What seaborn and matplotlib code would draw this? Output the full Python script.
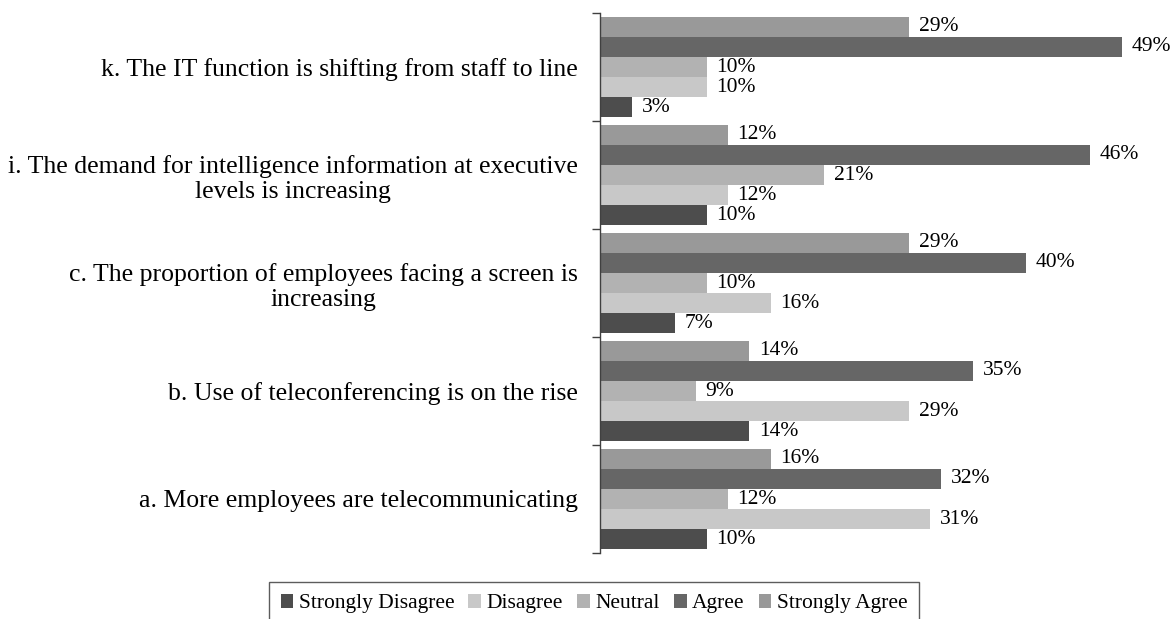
import matplotlib
matplotlib.use("Agg")
import matplotlib.pyplot as plt
import seaborn as sns
import pandas as pd
import numpy as np
from matplotlib.patches import Patch

statements = [
    "k. The IT function is shifting from staff to line",
    "i. The demand for intelligence information at executive\nlevels is increasing",
    "c. The proportion of employees facing a screen is\nincreasing",
    "b. Use of teleconferencing is on the rise",
    "a. More employees are telecommunicating",
]
responses = ["Strongly Disagree", "Disagree", "Neutral", "Agree", "Strongly Agree"]

strongly_disagree = [3, 10, 7, 14, 10]
disagree = [10, 12, 16, 29, 31]
neutral = [10, 21, 10, 9, 12]
agree = [49, 46, 40, 35, 32]
strongly_agree = [29, 12, 29, 14, 16]

colors = {
    "Strongly Disagree": "#4d4d4d",
    "Disagree": "#c8c8c8",
    "Neutral": "#b2b2b2",
    "Agree": "#666666",
    "Strongly Agree": "#999999",
}

series = [strongly_disagree, disagree, neutral, agree, strongly_agree]
rows = []
for resp, vals in zip(responses, series):
    for stmt, v in zip(statements, vals):
        rows.append({"Statement": stmt, "Response": resp, "Pct": v})
df = pd.DataFrame(rows)

sns.set_style("white")
plt.rcParams["font.family"] = ["Liberation Serif", "DejaVu Serif"]
plt.rcParams["text.color"] = "black"
plt.rcParams["ytick.color"] = "black"

fig = plt.figure(figsize=(11.74, 6.19), dpi=100)
ax = fig.add_axes([600 / 1174, 1 - 553 / 619, 533 / 1174, (553 - 13) / 619])

hue_order = responses[::-1]  # top bar in each group is "Strongly Agree"
sns.barplot(
    data=df, y="Statement", x="Pct", hue="Response", order=statements,
    hue_order=hue_order, palette=colors, orient="h", width=0.93, gap=0,
    saturation=1, errorbar=None, ax=ax, legend=False, linewidth=0,
)

for cont in ax.containers:
    labels = [f"{int(round(b.get_width()))}%" for b in cont]
    ax.bar_label(cont, labels=labels, padding=7, fontsize=15.5, color="black", clip_on=False)

ax.set_xlim(0, 50)
ax.set_ylim(len(statements) - 0.5, -0.5)
ax.set_xlabel("")
ax.set_ylabel("")
ax.set_xticks([])
for s in ["top", "right", "bottom"]:
    ax.spines[s].set_visible(False)
ax.spines["left"].set_color("#404040")
ax.spines["left"].set_linewidth(1.0)

ax.set_yticks(np.arange(len(statements)))
ax.set_yticklabels(statements, fontsize=18.5, multialignment="center", color="black")
ax.tick_params(axis="y", which="major", length=0, pad=16)
ax.set_yticks(np.arange(-0.5, len(statements)), minor=True)
ax.tick_params(axis="y", which="minor", length=6, width=1, color="#404040", direction="out", left=True)

handles = [Patch(facecolor=colors[r], edgecolor="none") for r in responses]
leg = fig.legend(
    handles, responses, loc="upper center", bbox_to_anchor=(594 / 1174, 1 - 582 / 619),
    ncol=5, fontsize=15.5, frameon=True, fancybox=False, handlelength=0.6, handleheight=0.6,
    handletextpad=0.25, columnspacing=0.65, borderpad=0.55, borderaxespad=0,
)
leg.get_frame().set_edgecolor("#333333")
leg.get_frame().set_linewidth(1.0)

fig.savefig("out.png", dpi=100)
